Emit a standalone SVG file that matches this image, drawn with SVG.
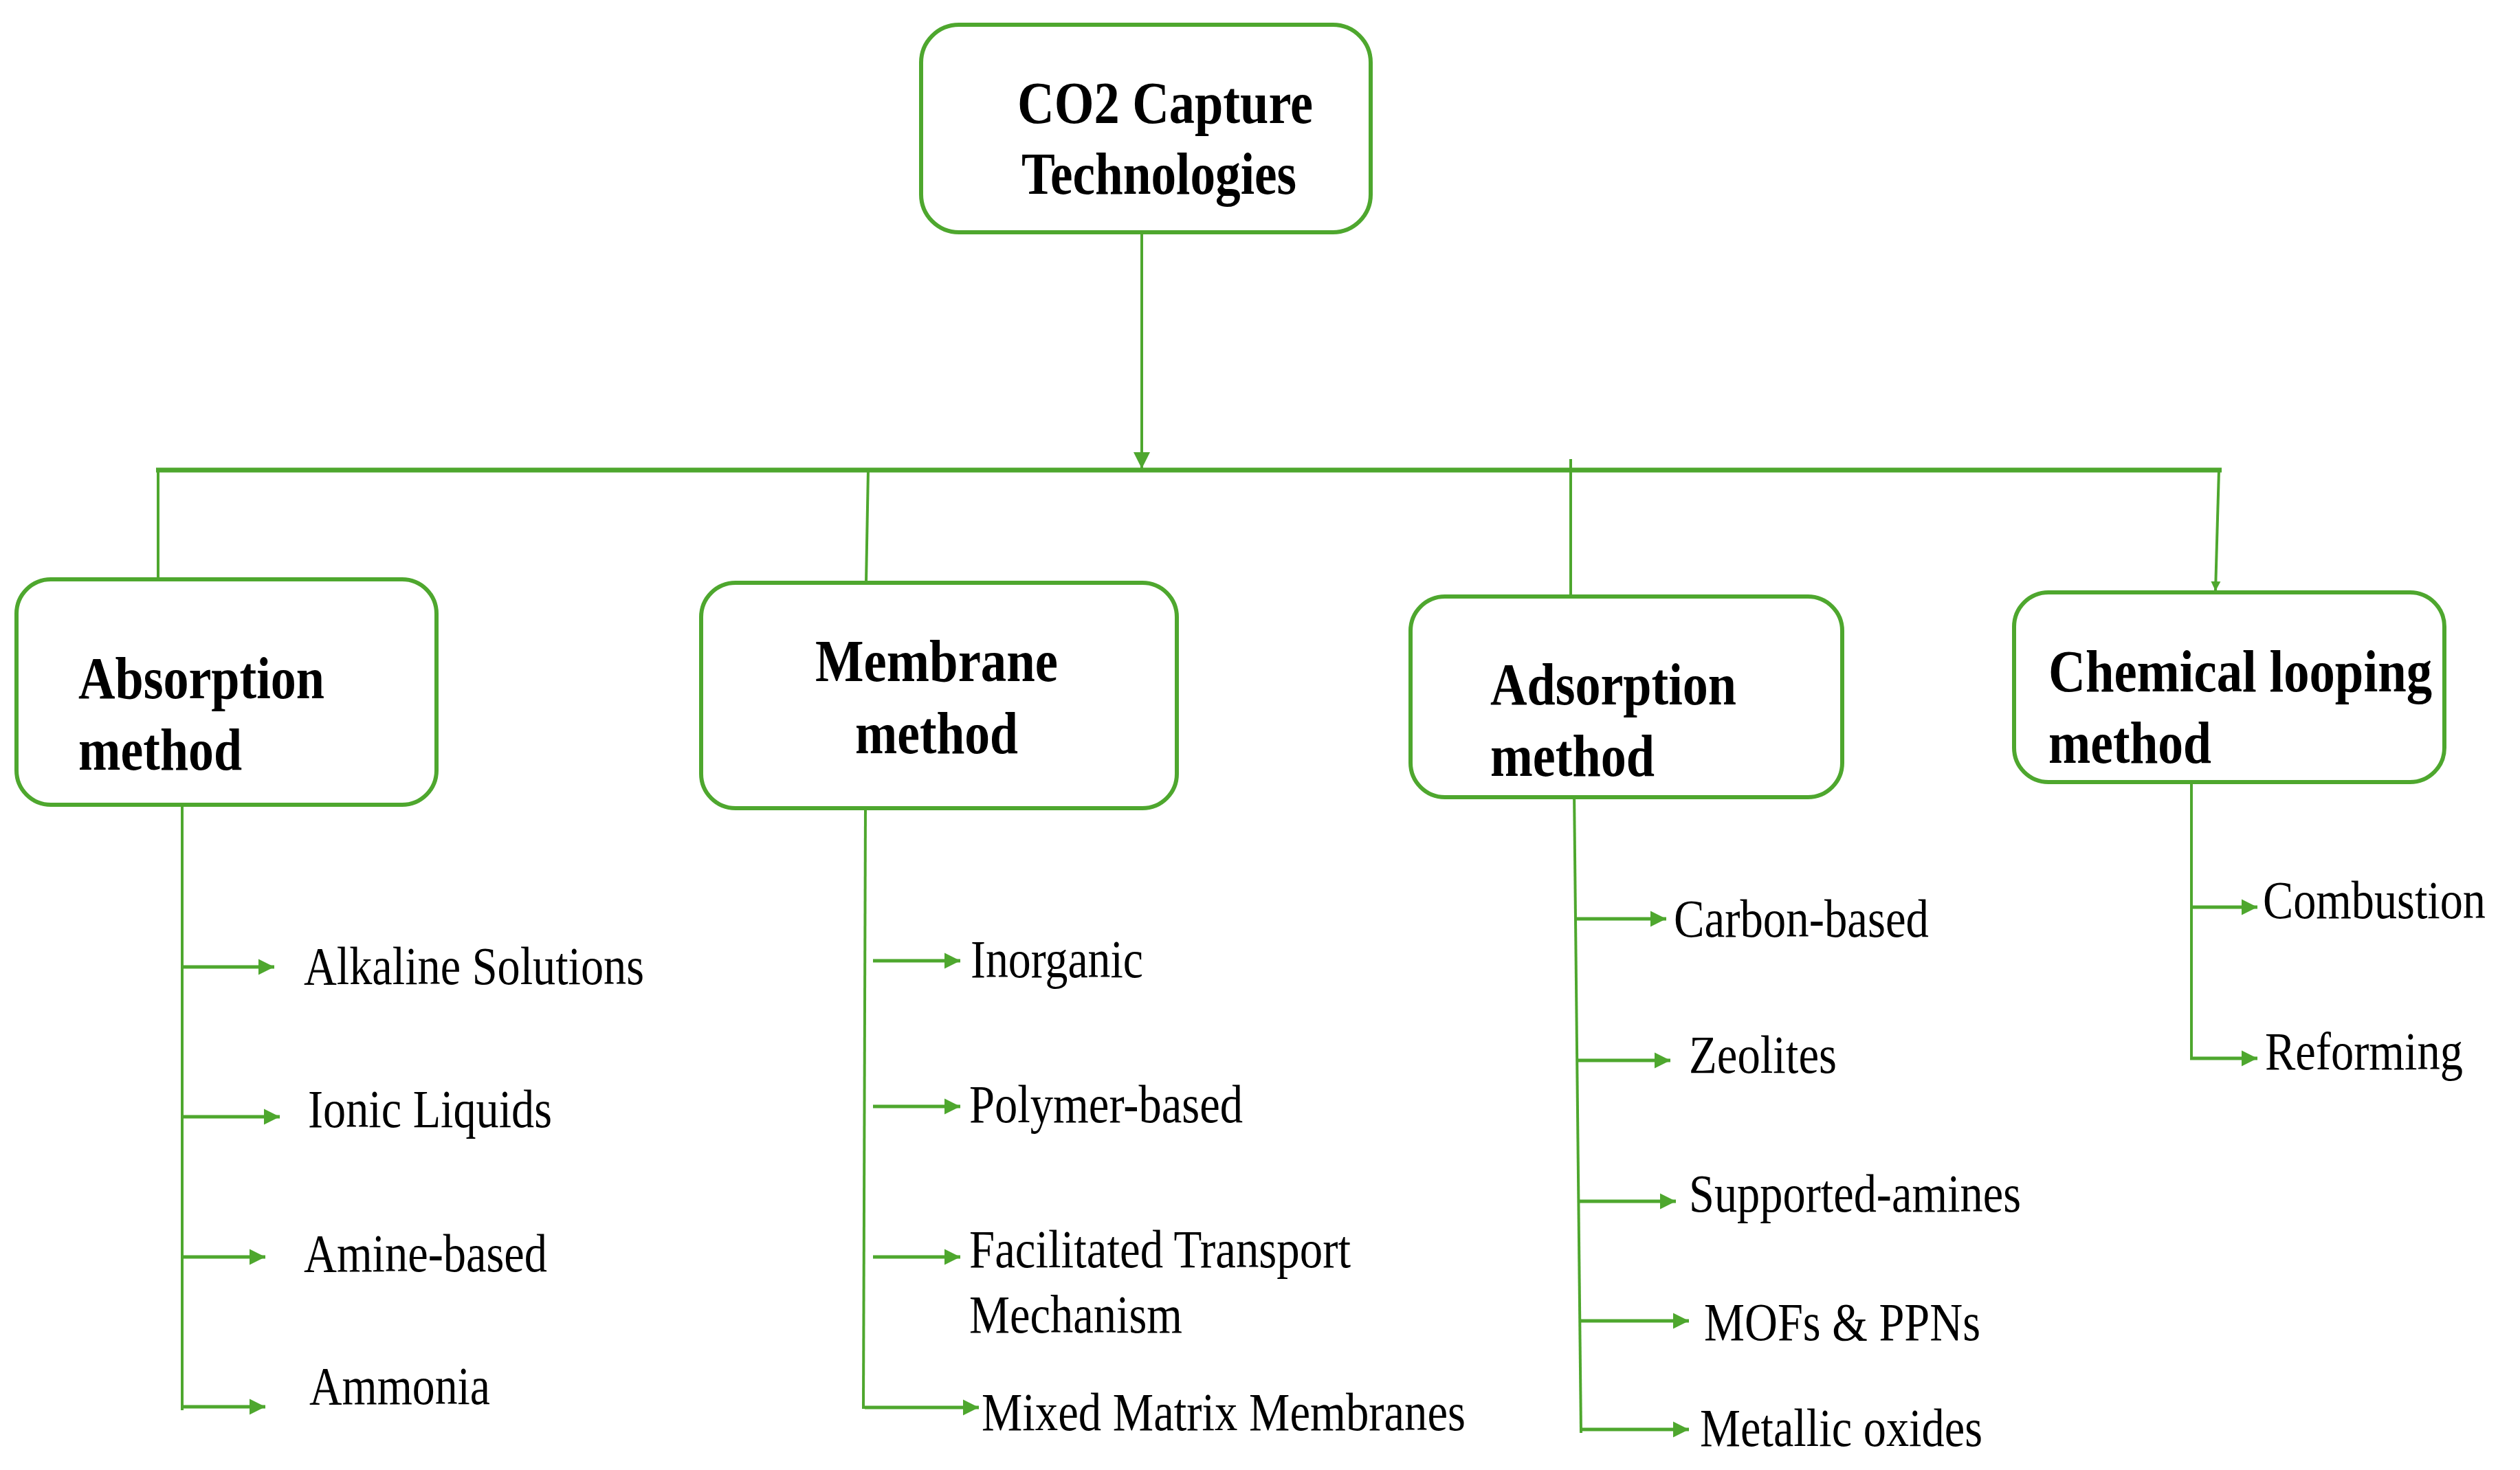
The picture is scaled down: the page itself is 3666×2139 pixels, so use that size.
<svg xmlns="http://www.w3.org/2000/svg" width="3666" height="2139" viewBox="0 0 3666 2139">
<defs>
<style>
.box{fill:#fff;stroke:#4ea72e;stroke-width:6}
.ln{fill:none;stroke:#4ea72e;stroke-width:4}
.bus{fill:none;stroke:#4ea72e;stroke-width:7}
.arr{fill:none;stroke:#4ea72e;stroke-width:5;marker-end:url(#ah)}
.h{font-family:"Liberation Serif","Times New Roman",serif;font-weight:bold;font-size:86px;fill:#000}
.t{font-family:"Liberation Serif","Times New Roman",serif;font-size:78px;fill:#000}
</style>
<marker id="ah" viewBox="0 0 10 10" refX="10" refY="5" markerWidth="23" markerHeight="25" markerUnits="userSpaceOnUse" orient="auto"><path d="M0,0 L10,5 L0,10 z" fill="#4ea72e"/></marker>
<marker id="ahb" viewBox="0 0 10 10" refX="10" refY="5" markerWidth="28" markerHeight="24" markerUnits="userSpaceOnUse" orient="auto"><path d="M0,0 L10,5 L0,10 z" fill="#4ea72e"/></marker>
<marker id="ahs" viewBox="0 0 10 10" refX="10" refY="5" markerWidth="14" markerHeight="20" markerUnits="userSpaceOnUse" orient="auto"><path d="M0,0 L10,5 L0,10 z" fill="#4ea72e"/></marker>
</defs>
<rect width="3666" height="2139" fill="#fff"/>
<g id="connectors">
<line class="ln" x1="1661" y1="341" x2="1661" y2="682" marker-end="url(#ahb)"/>
<line class="bus" x1="227" y1="684" x2="3232" y2="684"/>
<line class="ln" x1="230" y1="684" x2="230" y2="843"/>
<line class="ln" x1="1263" y1="684" x2="1260" y2="848"/>
<line class="ln" x1="2285" y1="668" x2="2285" y2="868"/>
<line class="ln" x1="3228" y1="684" x2="3223" y2="860" marker-end="url(#ahs)"/>
<line class="ln" x1="265" y1="1171" x2="265" y2="2052"/>
<line class="arr" x1="265" y1="1407" x2="399" y2="1407"/>
<line class="arr" x1="265" y1="1625" x2="407" y2="1625"/>
<line class="arr" x1="265" y1="1829" x2="386" y2="1829"/>
<line class="arr" x1="263" y1="2047" x2="386" y2="2047"/>
<line class="ln" x1="1259" y1="1176" x2="1256" y2="2050"/>
<line class="arr" x1="1270" y1="1398" x2="1397" y2="1398"/>
<line class="arr" x1="1270" y1="1610" x2="1397" y2="1610"/>
<line class="arr" x1="1270" y1="1829" x2="1397" y2="1829"/>
<line class="arr" x1="1258" y1="2048" x2="1424" y2="2048"/>
<line class="ln" x1="2290" y1="1150" x2="2300" y2="2085"/>
<line class="arr" x1="2292" y1="1337" x2="2424" y2="1337"/>
<line class="arr" x1="2294" y1="1543" x2="2430" y2="1543"/>
<line class="arr" x1="2296" y1="1748" x2="2438" y2="1748"/>
<line class="arr" x1="2298" y1="1922" x2="2457" y2="1922"/>
<line class="arr" x1="2299" y1="2080" x2="2457" y2="2080"/>
<line class="ln" x1="3188" y1="1136" x2="3188" y2="1542"/>
<line class="arr" x1="3188" y1="1320" x2="3284" y2="1320"/>
<line class="arr" x1="3186" y1="1540" x2="3284" y2="1540"/>
</g>
<g id="node-root">
<rect class="box" x="1340" y="36" width="654" height="302" rx="55" ry="55"/>
<text class="h" x="1480" y="179" textLength="430" lengthAdjust="spacingAndGlyphs">CO2 Capture</text>
<text class="h" x="1486" y="282" textLength="400" lengthAdjust="spacingAndGlyphs">Technologies</text>
</g>
<g id="node-absorption">
<rect class="box" x="24" y="843" width="611" height="328" rx="50" ry="50"/>
<text class="h" x="114" y="1016" textLength="358" lengthAdjust="spacingAndGlyphs">Absorption</text>
<text class="h" x="114" y="1120" textLength="238" lengthAdjust="spacingAndGlyphs">method</text>
</g>
<g id="node-membrane">
<rect class="box" x="1020" y="848" width="692" height="328" rx="50" ry="50"/>
<text class="h" x="1186" y="991" textLength="353" lengthAdjust="spacingAndGlyphs">Membrane</text>
<text class="h" x="1244" y="1096" textLength="237" lengthAdjust="spacingAndGlyphs">method</text>
</g>
<g id="node-adsorption">
<rect class="box" x="2052" y="868" width="628" height="292" rx="50" ry="50"/>
<text class="h" x="2168" y="1025" textLength="358" lengthAdjust="spacingAndGlyphs">Adsorption</text>
<text class="h" x="2168" y="1129" textLength="239" lengthAdjust="spacingAndGlyphs">method</text>
</g>
<g id="node-chemical">
<rect class="box" x="2930" y="862" width="626" height="276" rx="50" ry="50"/>
<text class="h" x="2980" y="1006" textLength="558" lengthAdjust="spacingAndGlyphs">Chemical looping</text>
<text class="h" x="2980" y="1110" textLength="237" lengthAdjust="spacingAndGlyphs">method</text>
</g>
<g id="items-absorption">
<text class="t" x="442" y="1432" textLength="495" lengthAdjust="spacingAndGlyphs">Alkaline Solutions</text>
<text class="t" x="448" y="1640" textLength="355" lengthAdjust="spacingAndGlyphs">Ionic Liquids</text>
<text class="t" x="442" y="1850" textLength="354" lengthAdjust="spacingAndGlyphs">Amine-based</text>
<text class="t" x="450" y="2043" textLength="263" lengthAdjust="spacingAndGlyphs">Ammonia</text>
</g>
<g id="items-membrane">
<text class="t" x="1412" y="1422" textLength="251" lengthAdjust="spacingAndGlyphs">Inorganic</text>
<text class="t" x="1410" y="1633" textLength="398" lengthAdjust="spacingAndGlyphs">Polymer-based</text>
<text class="t" x="1410" y="1844" textLength="555" lengthAdjust="spacingAndGlyphs">Facilitated Transport</text>
<text class="t" x="1410" y="1939" textLength="310" lengthAdjust="spacingAndGlyphs">Mechanism</text>
<text class="t" x="1428" y="2081" textLength="704" lengthAdjust="spacingAndGlyphs">Mixed Matrix Membranes</text>
</g>
<g id="items-adsorption">
<text class="t" x="2435" y="1363" textLength="371" lengthAdjust="spacingAndGlyphs">Carbon-based</text>
<text class="t" x="2457" y="1561" textLength="215" lengthAdjust="spacingAndGlyphs">Zeolites</text>
<text class="t" x="2457" y="1763" textLength="483" lengthAdjust="spacingAndGlyphs">Supported-amines</text>
<text class="t" x="2479" y="1950" textLength="402" lengthAdjust="spacingAndGlyphs">MOFs &amp; PPNs</text>
<text class="t" x="2473" y="2104" textLength="411" lengthAdjust="spacingAndGlyphs">Metallic oxides</text>
</g>
<g id="items-chemical">
<text class="t" x="3292" y="1336" font-size="74" textLength="324" lengthAdjust="spacingAndGlyphs">Combustion</text>
<text class="t" x="3295" y="1556" textLength="288" lengthAdjust="spacingAndGlyphs">Reforming</text>
</g>
</svg>
